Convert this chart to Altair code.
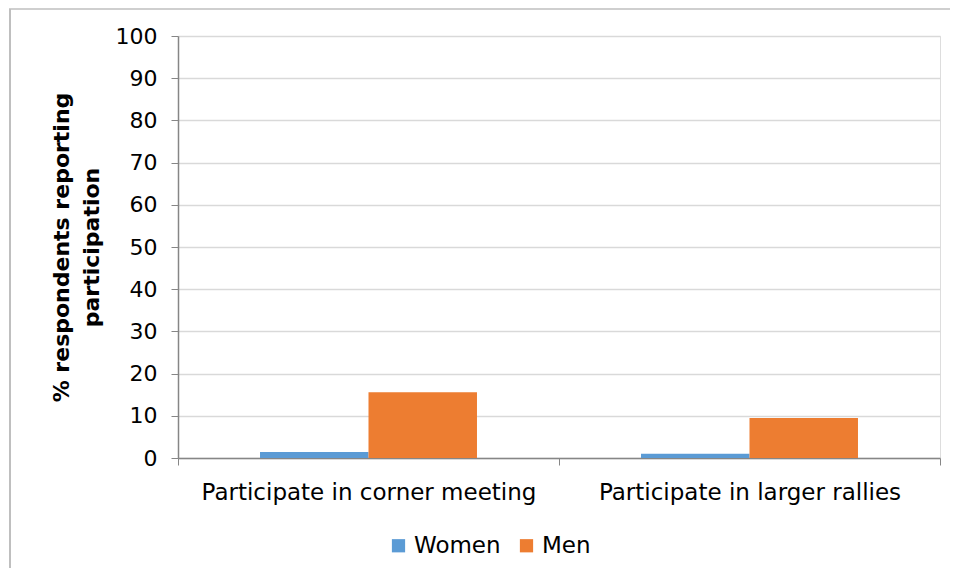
import altair as alt
import pandas as pd

categories = ["Participate in corner meeting", "Participate in larger rallies"]
women = [1.4, 1.0]
men = [15.6, 9.5]
series = ["Women", "Men"]
colors = ["#5b9bd5", "#ed7d31"]
y_ticks = [0, 10, 20, 30, 40, 50, 60, 70, 80, 90, 100]

rows = []
for i, c in enumerate(categories):
    rows.append({"category": c, "group": "Women", "value": women[i]})
    rows.append({"category": c, "group": "Men", "value": men[i]})
df = pd.DataFrame(rows)

FONT = "DejaVu Sans"
W, H = 762, 422

bars = alt.Chart(df).mark_bar().encode(
    x=alt.X("category:N", sort=categories,
            scale=alt.Scale(paddingInner=0, paddingOuter=0),
            axis=alt.Axis(title=None, labelAngle=0, labelFontSize=23, labelFont=FONT,
                          labelColor="#000000", labelLimit=0, tickBand="extent", tickSize=7,
                          tickColor="#868686", domainColor="#868686", domainWidth=1.5,
                          labelPadding=16, grid=False)),
    xOffset=alt.XOffset("group:N", sort=series,
                        scale=alt.Scale(paddingInner=0, paddingOuter=0.756)),
    y=alt.Y("value:Q",
            scale=alt.Scale(domain=[0, 100], nice=False),
            axis=alt.Axis(values=y_ticks, title=["% respondents reporting", "participation"],
                          titleFontSize=22, titleFont=FONT, titleFontWeight="bold",
                          titleColor="#000000", titleLineHeight=30, titlePadding=12,
                          labelFontSize=22, labelFont=FONT, labelColor="#000000",
                          labelPadding=14, tickSize=7, tickColor="#868686",
                          domainColor="#868686", domainWidth=1.5,
                          gridColor="#d9d9d9", gridWidth=1.5)),
    color=alt.Color("group:N", sort=series,
                    scale=alt.Scale(domain=series, range=colors),
                    legend=alt.Legend(title=None, orient="none", legendX=209, legendY=498,
                                      direction="horizontal", symbolType="square",
                                      symbolSize=175, symbolStrokeWidth=0,
                                      labelFontSize=23, labelFont=FONT, labelColor="#000000",
                                      labelOffset=4, columnPadding=14, padding=0)),
)

border_top = alt.Chart(pd.DataFrame({"k": [0]})).mark_rule(color="#bfbfbf", strokeWidth=1.5).encode(
    x=alt.value(-169), x2=alt.value(W + 20), y=alt.value(-27)
)
border_left = alt.Chart(pd.DataFrame({"k": [0]})).mark_rule(color="#bfbfbf", strokeWidth=2).encode(
    x=alt.value(-168), y=alt.value(-27), y2=alt.value(H + 130)
)

chart = alt.layer(bars, border_top, border_left).properties(
    width=W, height=H,
    autosize=alt.AutoSizeParams(type="none"),
    padding={"left": 170, "top": 28, "right": 10, "bottom": 110},
).configure_view(stroke=None).configure(background="#ffffff")

chart.save("out.html", embed_options={"renderer": "svg", "actions": False})
